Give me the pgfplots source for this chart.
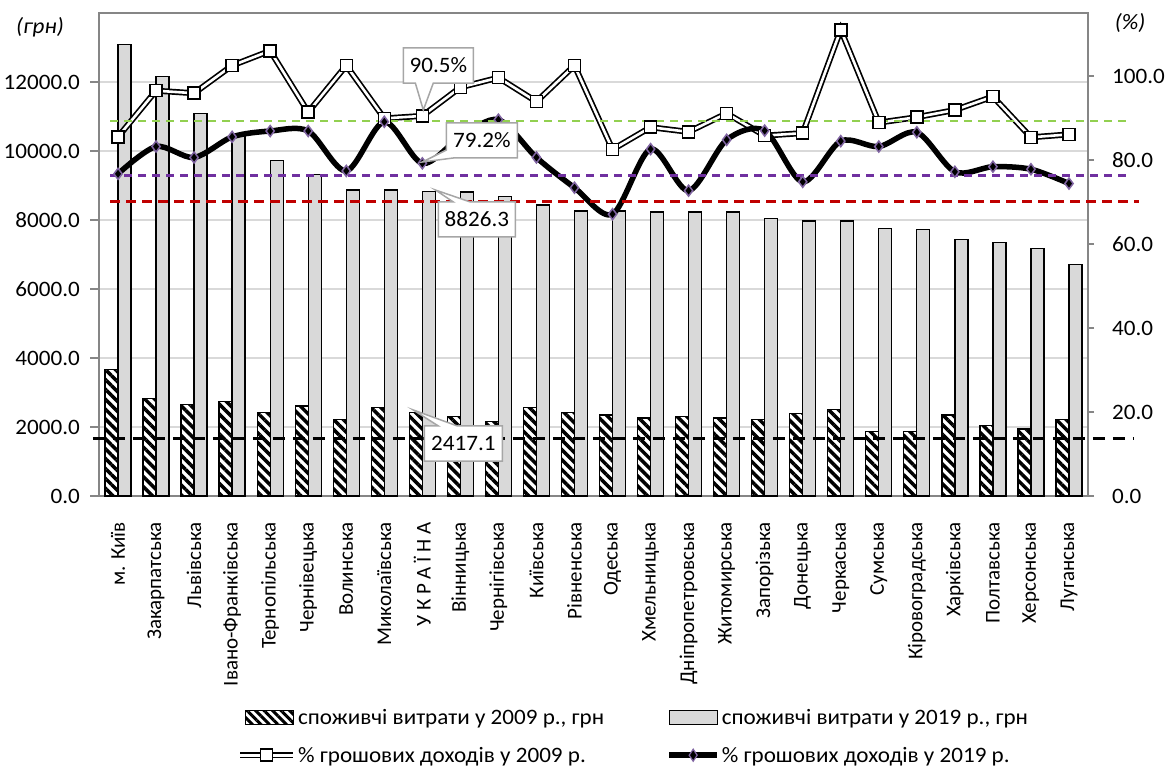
\documentclass[border=0pt]{standalone}
\usepackage{fontspec}
\setmainfont{Carlito}
\newfontfamily\wide[FakeStretch=1.05]{Carlito}
\usepackage{pgfplots}
\usepackage{pgfplotstable}
\pgfplotsset{compat=1.18}
\usetikzlibrary{patterns.meta}
\definecolor{axisgray}{HTML}{868686}
\definecolor{gridgray}{HTML}{D9D9D9}
\definecolor{barfill}{HTML}{D9D9D9}
\definecolor{mkpurple}{HTML}{8064A2}
\definecolor{lgreen}{HTML}{92D050}
\definecolor{lpurple}{HTML}{7030A0}
\definecolor{lred}{HTML}{C00000}
\definecolor{callgray}{HTML}{A6A6A6}
\newcommand{\fs}{\fontsize{21}{25}\selectfont}
\newcommand{\fw}{\wide\fontsize{22}{26}\selectfont}

\pgfplotstableread{
x e09 e19 p09 p19
0 3660 13090 85.5 76.7
1 2835 12155 96.5 83.2
2 2660 11082 95.9 80.6
3 2738 10430 102.5 85.5
4 2427 9729 106.0 86.9
5 2612 9324 91.4 86.9
6 2214 8870 102.5 77.4
7 2563 8870 89.9 89.1
8 2417.1 8826.3 90.5 79.2
9 2301 8815 97.3 85.5
10 2165 8676 99.6 89.6
11 2563 8435 93.9 80.6
12 2427 8261 102.5 73.4
13 2350 8261 82.5 67.1
14 2262 8232 87.8 82.6
15 2311 8232 86.7 72.7
16 2262 8232 91.1 84.8
17 2214 8048 85.8 87.0
18 2398 7971 86.4 74.8
19 2515 7971 111.0 84.5
20 1864 7749 88.9 83.2
21 1864 7729 90.2 86.6
22 2350 7435 91.9 77.2
23 2039 7350 95.1 78.4
24 1942 7175 85.4 77.8
25 2214 6705 86.1 74.4
}\data

\begin{document}
\begin{tikzpicture}
\useasboundingbox (0,0) rectangle (1169pt,769pt);
\begin{axis}[
  at={(99pt,273pt)}, anchor=south west,
  scale only axis, width=989pt, height=483pt,
  xmin=-0.5, xmax=25.5, ymin=0, ymax=14000,
  ybar=0pt, bar width=13pt,
  xtick={0,...,25},
  xticklabels={м. Київ,Закарпатська,Львівська,Івано-Франківська,Тернопільська,Чернівецька,Волинська,Миколаївська,У К Р А Ї Н А,Вінницька,Чернігівська,Київська,Рівненська,Одеська,Хмельницька,Дніпропетровська,Житомирська,Запорізька,Донецька,Черкаська,Сумська,Кіровоградська,Харківська,Полтавська,Херсонська,Луганська},
  xticklabel style={rotate=90, anchor=east, font=\fs, inner sep=0pt},
  xticklabel shift=17pt,
  x tick style={draw=none},
  ytick={0,2000,...,12000}, ytick pos=left,
  scaled y ticks=false,
  ymajorgrids, grid style={color=gridgray, line width=1.5pt},
  axis line style={color=axisgray, line width=1.5pt},
  tick align=outside, major tick length=9pt,
  y tick style={color=axisgray, line width=1.5pt},
  yticklabel style={font=\fw, inner sep=0pt},
  yticklabel shift=10pt,
  /pgf/number format/fixed, /pgf/number format/fixed zerofill,
  /pgf/number format/precision=1, /pgf/number format/1000 sep={},
  /pgf/number format/assume math mode=true,
]
\addplot[draw=black, line width=1.3pt, fill=white,
  postaction={pattern={Lines[angle=-45,distance=7pt,line width=3.5pt]}, pattern color=black}]
  table[x=x, y=e09] {\data};
\addplot[draw=black, line width=1.3pt, fill=barfill] table[x=x, y=e19] {\data};
\end{axis}

\begin{axis}[
  at={(99pt,273pt)}, anchor=south west,
  scale only axis, width=989pt, height=483pt,
  xmin=-0.5, xmax=25.5, ymin=0, ymax=115,
  axis x line=none, axis y line*=right,
  ytick={0,20,...,100},
  axis line style={color=axisgray, line width=1.5pt},
  tick align=outside, major tick length=6pt,
  y tick style={color=axisgray, line width=1.5pt},
  yticklabel style={font=\fw, inner sep=0pt, anchor=west},
  yticklabel shift=18pt,
  /pgf/number format/fixed, /pgf/number format/fixed zerofill,
  /pgf/number format/precision=1, /pgf/number format/1000 sep={},
  /pgf/number format/assume math mode=true,
  clip=false,
  legend columns=2,
  legend cell align=left,
  legend style={draw=none, fill=none, font=\fw, at={(0.1395,-0.437)}, anchor=north west,
    inner sep=0pt, row sep=17pt,
    /tikz/every even column/.append style={column sep=58pt}},
]
\addlegendimage{legend image code/.code={
  \draw[draw=none] (0pt,0pt) -- (53pt,0pt);
  \draw[black, line width=1.3pt, fill=white, postaction={pattern={Lines[angle=-45,distance=6pt,line width=3pt]}, pattern color=black}] (5pt,-7pt) rectangle (53pt,7pt);}}
\addlegendentry{споживчі витрати у 2009 р., грн}
\addlegendimage{legend image code/.code={
  \draw[draw=none] (0pt,0pt) -- (53pt,0pt);
  \draw[black, line width=1.3pt, fill=barfill] (5pt,-7pt) rectangle (53pt,7pt);}}
\addlegendentry{споживчі витрати у 2019 р., грн}

\addplot[black, line width=6pt, forget plot] table[x=x, y=p09] {\data};
\addplot[white, line width=2.6pt, mark=square*, mark size=6pt,
  mark options={fill=white, draw=black, line width=1.5pt},
  legend image code/.code={
    \draw[black, line width=6pt] (0pt,0pt) -- (53pt,0pt);
    \draw[white, line width=2.6pt] (0pt,0pt) -- (53pt,0pt);
    \draw[black, fill=white, line width=1.5pt] (20.5pt,-6pt) rectangle (32.5pt,6pt);}]
  table[x=x, y=p09] {\data};
\addlegendentry{\% грошових доходів у 2009 р.}
\addplot[black, line width=5.5pt, smooth, tension=0.5, mark=diamond*, mark size=5.5pt,
  mark options={fill=black, draw=mkpurple, line width=1.5pt},
  legend image code/.code={
    \draw[draw=none] (0pt,0pt) -- (53pt,0pt);
    \draw[black, line width=5.5pt] (5pt,0pt) -- (53pt,0pt);
    \draw[black, fill=black, draw=mkpurple, line width=1.2pt] (29pt,-6pt) -- (33pt,0pt) -- (29pt,6pt) -- (25pt,0pt) -- cycle;}]
  table[x=x, y=p19] {\data};
\addlegendentry{\% грошових доходів у 2019 р.}

\addplot[lgreen, line width=2.8pt, dash pattern=on 8pt off 6pt, forget plot] coordinates {(-0.21,89.3) (26.55,89.3)};
\addplot[lpurple, line width=2.8pt, dash pattern=on 8pt off 6pt, forget plot] coordinates {(-0.21,76.4) (26.55,76.4)};
\addplot[lred, line width=2.8pt, dash pattern=on 10pt off 6pt, forget plot] coordinates {(-0.21,70.1) (26.84,70.1)};
\addplot[black, line width=2.8pt, dash pattern=on 12pt off 8pt, forget plot] coordinates {(-0.66,13.6) (26.71,13.6)};
\end{axis}

% callouts, on top of everything, in the same right-axis coordinates
\begin{axis}[
  at={(99pt,273pt)}, anchor=south west,
  scale only axis, width=989pt, height=483pt,
  xmin=-0.5, xmax=25.5, ymin=0, ymax=115,
  hide axis, clip=false,
]
\draw[callgray, line width=1.5pt, fill=white]
  (axis cs:7.5,106.67) -- (axis cs:9.342,106.67) -- (axis cs:9.342,98.33) -- (axis cs:8.289,98.33)
  -- (axis cs:8.026,91.9) -- (axis cs:7.816,98.33) -- (axis cs:7.5,98.33) -- cycle;
\node[font=\fw] at (axis cs:8.421,102.5) {90.5\%};
\draw[callgray, line width=1.5pt, fill=white]
  (axis cs:8.632,88.81) -- (axis cs:10.5,88.81) -- (axis cs:10.5,80.48) -- (axis cs:8.816,80.48)
  -- (axis cs:8.0,79.52) -- (axis cs:8.632,82.38) -- cycle;
\node[font=\fw] at (axis cs:9.566,84.64) {79.2\%};
\draw[callgray, line width=1.5pt, fill=white]
  (axis cs:8.421,70.0) -- (axis cs:8.816,70.0) -- (axis cs:8.342,72.86) -- (axis cs:9.263,70.0)
  -- (axis cs:10.447,70.0) -- (axis cs:10.447,61.67) -- (axis cs:8.421,61.67) -- cycle;
\node[font=\fw] at (axis cs:9.434,65.83) {8826.3};
\draw[callgray, line width=1.5pt, fill=white]
  (axis cs:8.053,16.67) -- (axis cs:8.421,16.67) -- (axis cs:7.763,20.48) -- (axis cs:8.921,16.67)
  -- (axis cs:10.105,16.67) -- (axis cs:10.105,8.33) -- (axis cs:8.053,8.33) -- cycle;
\node[font=\fw] at (axis cs:9.079,12.5) {2417.1};
\end{axis}
\node[font=\fw\itshape] at (40pt,742pt) {(грн)};
\node[font=\fw\itshape] at (1130pt,746pt) {(\%)};
\end{tikzpicture}
\end{document}
